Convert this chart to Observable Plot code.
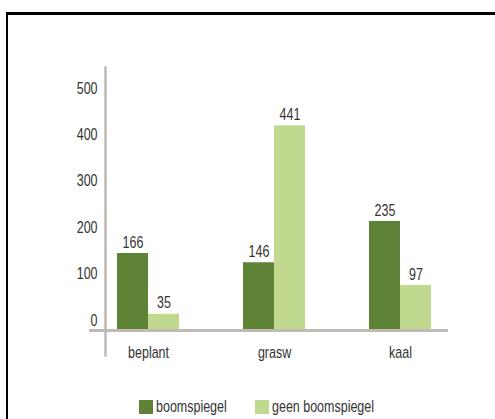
<!DOCTYPE html>
<html><head><meta charset="utf-8">
<script src="https://cdn.jsdelivr.net/npm/d3@7"></script>
<script src="https://cdn.jsdelivr.net/npm/@observablehq/plot@0.6"></script>
<style>
body{margin:0;background:#fff;}
#wrap{position:relative;width:495px;height:419px;overflow:hidden;font-family:"Liberation Sans",Arial,sans-serif;color:#333;}
#border{position:absolute;left:6px;top:12px;width:700px;height:700px;border-top:3px solid #000;border-left:2.5px solid #000;}
#chart{position:absolute;left:0;top:0;}
.item{position:absolute;top:400px;display:flex;align-items:center;font-size:16px;line-height:14px;white-space:nowrap;}
.item span{display:inline-block;transform:scaleX(0.78);transform-origin:left center;}
.sw{width:14px;height:14px;margin-right:3px;flex:none;}
</style></head>
<body>
<div id="wrap">
  <div id="border"></div>
  <div id="chart"></div>
  <div id="legend"></div>
</div>
<script>
const categories = ["beplant", "grasw", "kaal"];
const seriesNames = ["boomspiegel", "geen boomspiegel"];
const boomspiegel = [166, 146, 235];
const geenBoomspiegel = [35, 441, 97];
const yTicks = [0, 100, 200, 300, 400, 500];
const colors = ["#5e8337", "#c1d98f"];

const rows = categories.flatMap((c, i) => [
  {cat: c, series: seriesNames[0], value: boomspiegel[i]},
  {cat: c, series: seriesNames[1], value: geenBoomspiegel[i]}
]);
const dark = rows.filter(d => d.series === seriesNames[0]);
const light = rows.filter(d => d.series === seriesNames[1]);
const axisColor = "#bfbab5";
const font = '"Liberation Sans",Arial,sans-serif';

const chart = Plot.plot({
  width: 495,
  height: 380,
  marginTop: 67,
  marginBottom: 25,
  marginLeft: 105,
  marginRight: 47,
  style: {fontFamily: font, fontSize: "16px", color: "#333", background: "transparent"},
  x: {domain: categories, range: [117, 431], paddingInner: 0.508, paddingOuter: 0, label: null},
  y: {domain: [0, 500], range: [330, 98], label: null},
  color: {domain: seriesNames, range: colors},
  marks: [
    Plot.barY(dark, {x: "cat", y: "value", fill: "series", insetRight: 31}),
    Plot.barY(light, {x: "cat", y: "value", fill: "series", insetLeft: 31}),
    Plot.ruleY([0], {stroke: axisColor, strokeWidth: 3, insetLeft: -16}),
    Plot.frame({anchor: "left", stroke: axisColor, strokeWidth: 2.5}),
    Plot.text(dark, {x: "cat", y: "value", text: d => String(d.value), dx: -15.5, dy: -11, fontSize: 16, fill: "#333"}),
    Plot.text(light, {x: "cat", y: "value", text: d => String(d.value), dx: 15.5, dy: -11, fontSize: 16, fill: "#333"}),
    Plot.axisY(yTicks, {tickSize: 0, tickPadding: 8, dy: -10, fontSize: 16, color: "#333", label: null}),
    Plot.axisX({tickSize: 0, tickPadding: 0, dy: -9, fontSize: 16, color: "#333", label: null})
  ]
});
document.getElementById("chart").appendChild(chart);

// condense text horizontally around its anchor (narrow typeface look)
const SCALE = 0.78;
chart.querySelectorAll("text").forEach(t => {
  const b = t.getBBox();
  const anchor = t.getAttribute("text-anchor") || (t.closest("[text-anchor]") ? t.closest("[text-anchor]").getAttribute("text-anchor") : "middle");
  const cx = anchor === "end" ? b.x + b.width : anchor === "start" ? b.x : b.x + b.width / 2;
  const prev = t.getAttribute("transform") || "";
  t.setAttribute("transform", `${prev} translate(${cx},0) scale(${SCALE},1) translate(${-cx},0)`.trim());
});

const legend = document.getElementById("legend");
const lefts = [139, 255];
seriesNames.forEach((s, i) => {
  const item = document.createElement("div");
  item.className = "item";
  item.style.left = lefts[i] + "px";
  const sw = document.createElement("div");
  sw.className = "sw";
  sw.style.background = colors[i];
  const t = document.createElement("span");
  t.textContent = s;
  item.appendChild(sw);
  item.appendChild(t);
  legend.appendChild(item);
});
</script>
</body></html>
